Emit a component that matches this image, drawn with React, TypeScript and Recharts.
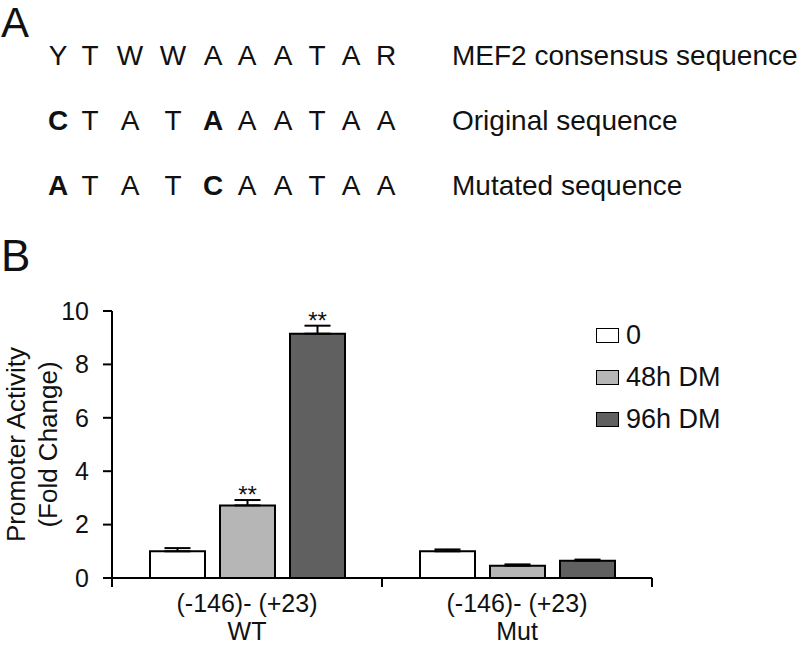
import React from 'react';
import { Bar, BarChart, ErrorBar, LabelList, Legend, XAxis, YAxis } from 'recharts';

// panel A: sequences
const consensusSeq = ['Y', 'T', 'W', 'W', 'A', 'A', 'A', 'T', 'A', 'R'];
const originalSeq = ['C', 'T', 'A', 'T', 'A', 'A', 'A', 'T', 'A', 'A'];
const mutatedSeq = ['A', 'T', 'A', 'T', 'C', 'A', 'A', 'T', 'A', 'A'];
const boldPositions = [0, 4];
const seqLabels = ['MEF2 consensus sequence', 'Original sequence', 'Mutated sequence'];

// panel B: promoter activity
const constructs = ['(-146)- (+23)', '(-146)- (+23)'];
const variants = ['WT', 'Mut'];
const seriesNames = ['0', '48h DM', '96h DM'];
const day0 = [1.0, 1.0];
const dm48 = [2.72, 0.46];
const dm96 = [9.15, 0.65];
const err0 = [0.12, 0.07];
const err48 = [0.2, 0.05];
const err96 = [0.3, 0.04];
const sig48 = ['**', ''];
const sig96 = ['**', ''];
const yTicks = [0, 2, 4, 6, 8, 10];

const colors = ['#ffffff', '#b6b6b6', '#606060'];
const FONT = '"Liberation Sans", Arial, Helvetica, sans-serif';
const INK = '#111';

const data = variants.map((v, i) => ({
  variant: v,
  d0: day0[i],
  d48: dm48[i],
  d96: dm96[i],
  e0: [0, err0[i]],
  e48: [0, err48[i]],
  e96: [0, err96[i]],
  s48: sig48[i],
  s96: sig96[i],
}));

const letterX = [58, 90, 130, 173, 213, 247, 283, 317, 351, 386];

function SeqRow({ seq, y, bold }: { seq: string[]; y: number; bold: number[] }) {
  return (
    <g>
      {seq.map((c, i) => (
        <text
          key={i}
          x={letterX[i]}
          y={y}
          textAnchor="middle"
          fontWeight={bold.includes(i) ? 'bold' : 'normal'}
        >
          {c}
        </text>
      ))}
    </g>
  );
}

function PanelA() {
  return (
    <svg width={800} height={240} style={{ position: 'absolute', left: 0, top: 0 }}>
      <g fontFamily={FONT} fill={INK}>
        <text x={1} y={37} fontSize={42}>A</text>
        <g fontSize={28}>
          <SeqRow seq={consensusSeq} y={65} bold={[]} />
          <SeqRow seq={originalSeq} y={130} bold={boldPositions} />
          <SeqRow seq={mutatedSeq} y={195} bold={boldPositions} />
          {seqLabels.map((s, i) => (
            <text key={s} x={452} y={65 + i * 65}>{s}</text>
          ))}
        </g>
      </g>
    </svg>
  );
}

function XTick(props: any) {
  const { x, y, payload, index } = props;
  const half = payload?.offset || 135;
  return (
    <g>
      <line x1={x - half} y1={y} x2={x - half} y2={y + 9} stroke="#000" strokeWidth={2} />
      <line x1={x + half} y1={y} x2={x + half} y2={y + 9} stroke="#000" strokeWidth={2} />
      <text x={x} y={y + 34} textAnchor="middle" fontSize={25} fontFamily={FONT} fill={INK}>
        {constructs[index]}
      </text>
      <text x={x} y={y + 62} textAnchor="middle" fontSize={25} fontFamily={FONT} fill={INK}>
        {payload.value}
      </text>
    </g>
  );
}

const sigLabel = (vals: number[], errs: number[]) => (props: any) => {
  const { x, y, width, height, index, value } = props;
  if (!value) return null;
  const pxPerUnit = height / vals[index];
  const top = y - errs[index] * pxPerUnit;
  return (
    <text x={x + width / 2} y={top + 3} textAnchor="middle" fontSize={24} fontFamily={FONT} fill={INK}>
      {value}
    </text>
  );
};

function YTitle(props: any) {
  const vb = props.viewBox || { x: 0, y: 61, width: 112, height: 267 };
  const cy = vb.y + vb.height / 2;
  return (
    <g fontFamily={FONT} fontSize={26} fill={INK}>
      <text x={25} y={cy} transform={`rotate(-90 25 ${cy})`} textAnchor="middle">
        Promoter Activity
      </text>
      <text x={57} y={cy} transform={`rotate(-90 57 ${cy})`} textAnchor="middle">
        (Fold Change)
      </text>
    </g>
  );
}

function LegendBox() {
  return (
    <div style={{ fontFamily: FONT, fontSize: 27, color: INK }}>
      {seriesNames.map((n, i) => (
        <div key={n} style={{ display: 'flex', alignItems: 'center', height: 42 }}>
          <span
            style={{
              display: 'inline-block',
              width: 21,
              height: 13,
              background: colors[i],
              border: '1.5px solid #000',
              marginRight: 7,
            }}
          />
          <span>{n}</span>
        </div>
      ))}
    </div>
  );
}

function PanelB() {
  return (
    <div style={{ position: 'absolute', left: 0, top: 250, width: 800, height: 396 }}>
      <div
        style={{
          position: 'absolute',
          left: 1,
          top: -16,
          fontFamily: FONT,
          fontSize: 44,
          color: INK,
          lineHeight: 1,
        }}
      >
        B
      </div>
      <BarChart
        width={800}
        height={396}
        data={data}
        margin={{ top: 61, right: 148, bottom: 0, left: 0 }}
        barSize={55}
        barGap={15}
      >
        <XAxis
          dataKey="variant"
          axisLine={{ stroke: '#000', strokeWidth: 2 }}
          tickLine={false}
          tickSize={0}
          tickMargin={0}
          height={68}
          interval={0}
          tick={<XTick />}
        />
        <YAxis
          domain={[0, 10]}
          ticks={yTicks}
          width={112}
          axisLine={{ stroke: '#000', strokeWidth: 2 }}
          tickLine={{ stroke: '#000', strokeWidth: 2 }}
          tickSize={9}
          tickMargin={14}
          tick={{ fontSize: 25, fill: INK, fontFamily: FONT }}
          label={{ content: <YTitle /> }}
        />
        <Legend
          layout="vertical"
          align="center"
          verticalAlign="middle"
          wrapperStyle={{ left: 596, top: 64, width: 200 }}
          content={<LegendBox />}
        />
        <Bar dataKey="d0" name={seriesNames[0]} fill={colors[0]} stroke="#000" strokeWidth={2} isAnimationActive={false}>
          <ErrorBar dataKey="e0" direction="y" width={13} stroke="#000" strokeWidth={2} isAnimationActive={false} />
        </Bar>
        <Bar dataKey="d48" name={seriesNames[1]} fill={colors[1]} stroke="#000" strokeWidth={2} isAnimationActive={false}>
          <ErrorBar dataKey="e48" direction="y" width={13} stroke="#000" strokeWidth={2} isAnimationActive={false} />
          <LabelList dataKey="s48" content={sigLabel(dm48, err48)} />
        </Bar>
        <Bar dataKey="d96" name={seriesNames[2]} fill={colors[2]} stroke="#000" strokeWidth={2} isAnimationActive={false}>
          <ErrorBar dataKey="e96" direction="y" width={13} stroke="#000" strokeWidth={2} isAnimationActive={false} />
          <LabelList dataKey="s96" content={sigLabel(dm96, err96)} />
        </Bar>
      </BarChart>
    </div>
  );
}

export default function App() {
  return (
    <div style={{ position: 'absolute', left: 0, top: 0, width: 800, height: 646, background: '#fff', overflow: 'hidden' }}>
      <PanelA />
      <PanelB />
    </div>
  );
}
